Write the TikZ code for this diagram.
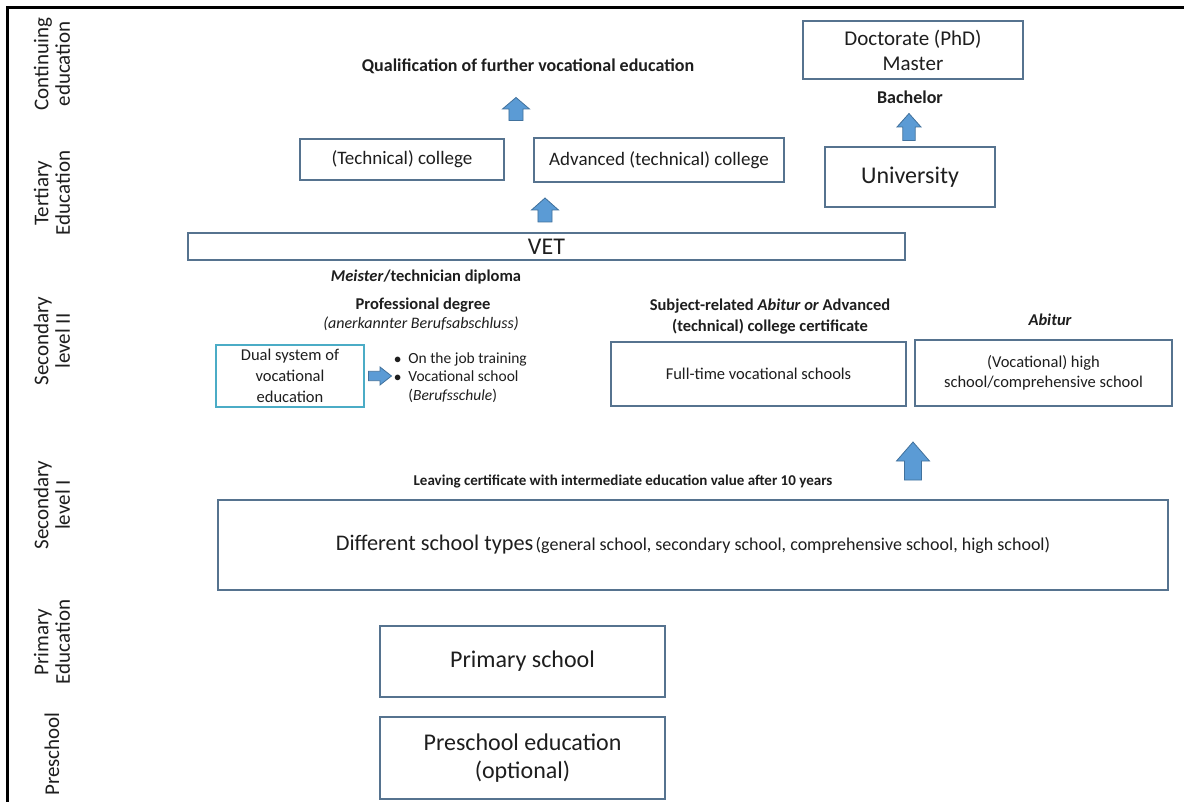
\documentclass[tikz,border=0pt]{standalone}
\usepackage{fontspec}
\setmainfont{Carlito}
\definecolor{boxline}{HTML}{56738F}
\definecolor{dualline}{HTML}{4BACC6}
\definecolor{arrowfill}{HTML}{5B9BD5}
\definecolor{arrowline}{HTML}{41719C}
\definecolor{ink}{HTML}{1E1E1E}
\newcommand{\fs}[1]{\fontsize{#1}{20}\selectfont}
\tikzset{
  eduBox/.style={draw=boxline, line width=1.8pt, fill=white, text=ink, align=center, inner sep=0pt},
  dualBox/.style={draw=dualline, line width=1.8pt, fill=white, text=ink, align=center, inner sep=0pt},
  rowLabel/.style={rotate=90, align=center, text=ink, font=\fontsize{21}{21.5}\selectfont, inner sep=0pt},
  noteText/.style={text=ink, align=center, inner sep=0pt},
  blockArrow/.style={fill=arrowfill, draw=arrowline, line width=0.8pt, line join=miter},
  pics/upArrow/.style 2 args={code={
    \path[blockArrow] (-0.26*#1,0.5*#2) -- (-0.26*#1,0) -- (-0.5*#1,0) -- (0,-0.5*#2)
      -- (0.5*#1,0) -- (0.26*#1,0) -- (0.26*#1,0.5*#2) -- cycle;}},
  pics/rightArrow/.style 2 args={code={
    \path[blockArrow] (-0.5*#1,-0.26*#2) -- (0,-0.26*#2) -- (0,-0.5*#2) -- (0.5*#1,0)
      -- (0,0.5*#2) -- (0,0.26*#2) -- (-0.5*#1,0.26*#2) -- cycle;}}
}
\begin{document}
\begin{tikzpicture}[x=1pt,y=-1pt]
\useasboundingbox (0,0) rectangle (1184,802);
\fill[white] (0,0) rectangle (1184,802);
% frame
\draw[line width=3pt, black] (7,802) -- (7,8) -- (1184,8);

% row labels
\node[rowLabel] (lContinuing) at (52,64) {Continuing\\education};
\node[rowLabel] (lTertiary) at (52,193) {Tertiary\\Education};
\node[rowLabel] (lSecII) at (52,341) {Secondary\\level II};
\node[rowLabel] (lSecI) at (52,505) {Secondary\\level I};
\node[rowLabel] (lPrimary) at (52,642) {Primary\\Education};
\node[rowLabel] (lPreschool) at (52,754) {Preschool};

% continuing / tertiary
\node[eduBox, minimum width=220pt, minimum height=58pt, font=\fontsize{21}{25}\selectfont] (doc) at (913,50) {Doctorate (PhD)\\Master};
\node[noteText, font=\bfseries\fs{18}] (bachelor) at (910,97) {Bachelor};
\pic at (909,127) {upArrow={24}{27}};
\node[eduBox, minimum width=170pt, minimum height=60pt, font=\fs{24}] (uni) at (910,177) {University};

\node[noteText, font=\bfseries\fs{18}] (qual) at (528,66) {Qualification of further vocational education};
\pic at (516,109) {upArrow={27}{23}};
\node[eduBox, minimum width=204pt, minimum height=41pt, font=\fs{19}] (tech) at (402,159.5) {(Technical) college};
\node[eduBox, minimum width=250pt, minimum height=44pt, font=\fs{19}] (adv) at (659,160) {Advanced (technical) college};
\pic at (545,210) {upArrow={27}{24}};
\node[eduBox, minimum width=717pt, minimum height=27pt, font=\fs{24}] (vet) at (546.5,246.5) {VET};

% secondary level II
\node[noteText, font=\bfseries\fs{16.5}] (meister) at (426,277) {\textit{Meister}/technician diploma};
\node[noteText, font=\bfseries\fs{16.5}] (profdeg) at (423,305) {Professional degree};
\node[noteText, font=\itshape\fs{16}] (anerk) at (421,324) {(anerkannter Berufsabschluss)};
\node[dualBox, minimum width=148pt, minimum height=62pt, font=\fontsize{16.5}{21}\selectfont] (dual) at (290,376) {Dual system of\\vocational\\education};
\pic at (380,376) {rightArrow={23}{18}};
\node[noteText, anchor=west, align=left, font=\fontsize{15.5}{18.5}\selectfont] (bullets) at (394,378)
  {\begin{tabular}{@{}l@{\hspace{7pt}}l@{}}$\bullet$ & On the job training\\ $\bullet$ & Vocational school\\ & (\textit{Berufsschule})\end{tabular}};

\node[noteText, font=\bfseries\fontsize{16.5}{21}\selectfont] (subject) at (770,317) {Subject-related \textit{Abitur or} Advanced\\(technical) college certificate};
\node[noteText, font=\bfseries\itshape\fs{16.5}] (abitur) at (1050,320) {Abitur};
\node[eduBox, minimum width=295pt, minimum height=64pt, font=\fs{16.5}] (fulltime) at (758.5,374) {Full-time vocational schools};
\node[eduBox, minimum width=257pt, minimum height=66pt, font=\fontsize{16.5}{20}\selectfont] (highschool) at (1043.5,373) {(Vocational) high\\school/comprehensive school};

% secondary level I
\pic at (913,461) {upArrow={33}{38}};
\node[noteText, font=\bfseries\fs{15}] (leaving) at (623,481) {Leaving certificate with intermediate education value after 10 years};
\node[eduBox, minimum width=950pt, minimum height=90pt] (different) at (693,545)
  {{\fs{22.3}Different school types} {\fs{18}(general school, secondary school, comprehensive school, high school)}};

% primary / preschool
\node[eduBox, minimum width=285pt, minimum height=71pt, font=\fs{24}] (primary) at (522.5,661.5) {Primary school};
\node[eduBox, minimum width=285pt, minimum height=82pt, font=\fontsize{24}{28}\selectfont] (preschool) at (522.5,758) {Preschool education\\(optional)};
\end{tikzpicture}
\end{document}
